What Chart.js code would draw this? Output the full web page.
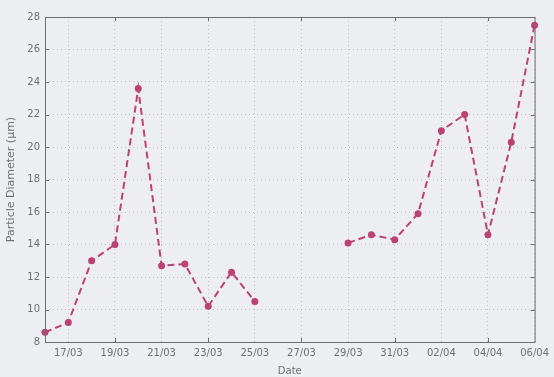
<!DOCTYPE html>
<html>
<head>
<meta charset="utf-8">
<script src="https://cdn.jsdelivr.net/npm/chart.js@4/dist/chart.umd.min.js"></script>
<style>
  html, body { margin: 0; padding: 0; background: #eceef2; }
  #wrap { width: 554px; height: 377px; }
</style>
</head>
<body>
<div id="wrap"><canvas id="c" width="554" height="377"></canvas></div>
<script>
// Daily dates from 16/03 to 06/04
const dates = [
  '16/03','17/03','18/03','19/03','20/03','21/03','22/03','23/03','24/03','25/03',
  '26/03','27/03','28/03','29/03','30/03','31/03','01/04','02/04','03/04','04/04',
  '05/04','06/04'
];
// Particle diameter (µm); null = no measurement that day
const diameter = [
  8.6, 9.2, 13.0, 14.0, 23.6, 12.7, 12.8, 10.2, 12.3, 10.5,
  null, null, null, 14.1, 14.6, 14.3, 15.9, 21.0, 22.0, 14.6,
  20.3, 27.5
];
const yTicks = [8, 10, 12, 14, 16, 18, 20, 22, 24, 26, 28];

const lineColor = '#bc4274';
const axisColor = '#6a6d72';
const textColor = '#6d7075';
const gridColor = 'rgba(130,134,140,0.42)';

// Frame around the axes plus inward tick marks
const framePlugin = {
  id: 'frame',
  beforeDraw(chart) {
    const ctx = chart.ctx;
    ctx.save();
    ctx.fillStyle = '#eceef2';
    ctx.fillRect(0, 0, chart.width, chart.height);
    ctx.restore();
  },
  afterDatasetsDraw(chart) {
    const { ctx, chartArea: a, scales } = chart;
    ctx.save();
    ctx.strokeStyle = axisColor;
    ctx.lineWidth = 1;
    ctx.strokeRect(a.left + 0.5, a.top + 0.5, a.right - a.left, a.bottom - a.top);
    const len = 4;
    ctx.beginPath();
    scales.x.ticks.forEach((t, i) => {
      if (i % 2 === 0) return;
      const px = Math.round(scales.x.getPixelForTick(i)) + 0.5;
      ctx.moveTo(px, a.bottom); ctx.lineTo(px, a.bottom - len);
      ctx.moveTo(px, a.top); ctx.lineTo(px, a.top + len);
    });
    yTicks.forEach(v => {
      const py = Math.round(scales.y.getPixelForValue(v)) + 0.5;
      ctx.moveTo(a.left, py); ctx.lineTo(a.left + len, py);
      ctx.moveTo(a.right, py); ctx.lineTo(a.right - len, py);
    });
    ctx.stroke();
    ctx.restore();
  }
};

new Chart(document.getElementById('c'), {
  type: 'line',
  data: {
    labels: dates,
    datasets: [{
      data: diameter,
      borderColor: lineColor,
      backgroundColor: lineColor,
      borderWidth: 2,
      borderDash: [7, 4],
      pointRadius: 3.5,
      pointBorderWidth: 0,
      pointBackgroundColor: lineColor,
      spanGaps: false,
      tension: 0
    }]
  },
  options: {
    responsive: false,
    animation: false,
    devicePixelRatio: 1,
    layout: { padding: { top: 17, right: 17, left: 0, bottom: 0 } },
    plugins: { legend: { display: false }, tooltip: { enabled: false } },
    scales: {
      x: {
        type: 'category',
        offset: false,
        grid: { color: gridColor, drawTicks: false, lineWidth: 1 },
        border: { display: false, dash: [1, 3] },
        ticks: {
          autoSkip: false, maxRotation: 0, padding: 5,
          color: textColor, font: { family: 'DejaVu Sans', size: 10 },
          callback(v, i) { return i % 2 === 1 ? dates[i] : null; }
        },
        title: {
          display: true, text: 'Date', color: textColor,
          font: { family: 'DejaVu Sans', size: 10 }, padding: { top: 1, bottom: 0 }
        },
        afterFit(s) { s.height = 35; }
      },
      y: {
        min: 8, max: 28,
        afterBuildTicks(s) { s.ticks = yTicks.map(v => ({ value: v })); },
        grid: { color: gridColor, drawTicks: false, lineWidth: 1 },
        border: { display: false, dash: [1, 3] },
        ticks: {
          padding: 5, color: textColor,
          font: { family: 'DejaVu Sans', size: 10 }
        },
        title: {
          display: true, text: 'Particle Diameter (µm)', color: textColor,
          font: { family: 'DejaVu Sans', size: 11 }, padding: { top: 5, bottom: 0 }
        },
        afterFit(s) { s.width = 45; }
      }
    }
  },
  plugins: [framePlugin]
});
</script>
</body>
</html>
